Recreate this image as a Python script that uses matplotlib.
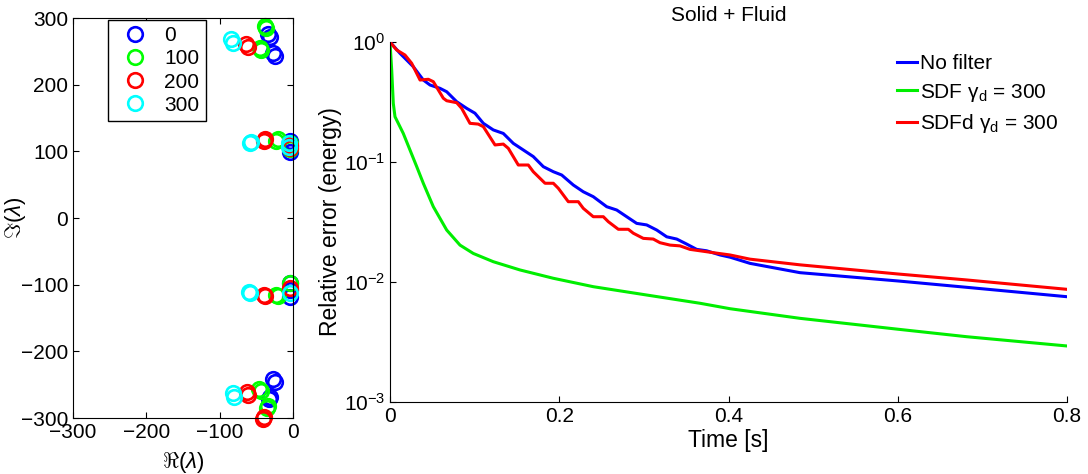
import matplotlib
matplotlib.use('Agg')
import matplotlib.pyplot as plt

plt.rcParams['font.family'] = ['Liberation Sans', 'DejaVu Sans']
plt.rcParams['mathtext.fontset'] = 'custom'
plt.rcParams['mathtext.rm'] = 'Liberation Sans'
plt.rcParams['mathtext.it'] = 'Liberation Sans:italic'
plt.rcParams['xtick.direction'] = 'in'
plt.rcParams['ytick.direction'] = 'in'

# ---- eigenvalues (left panel) ----
eig_labels = ['0', '100', '200', '300']
eig_colors = ['#0000ff', '#00ff00', '#ff0000', '#00ffff']
eig_re = [
    [-34, -32, -27, -25, -4, -4, -4, -4, -4, -4, -27, -25, -33, -31],
    [-38, -37, -45, -44, -21, -23, -4, -4, -21, -23, -4, -46, -44, -35, -34],
    [-64, -62, -38, -40, -4, -4, -38, -40, -4, -63, -61, -41, -40],
    [-84, -82, -57, -59, -5, -5, -58, -60, -4, -82, -80],
]
eig_im = [
    [276, 272, 248, 243, 116, 108, 99, -97, -108, -118, -241, -246, -272, -268],
    [288, 285, 255, 252, 118, 116, 112, 104, -117, -115, -98, -256, -259, -285, -282],
    [261, 256, 118, 116, 110, 105, -117, -115, -105, -261, -265, -302, -299],
    [268, 263, 114, 112, 112, 107, -113, -111, -112, -263, -268],
]

# ---- relative error curves (right panel) ----
t_nofilt = [0, 0.0118, 0.0275, 0.0394, 0.0473, 0.0591, 0.0670, 0.0788, 0.0906,
            0.1004, 0.1103, 0.1221, 0.1339, 0.1457, 0.1575, 0.1693, 0.1812,
            0.1930, 0.2029, 0.2166, 0.2284, 0.2402, 0.2561, 0.2679, 0.2797,
            0.2915, 0.3033, 0.3152, 0.3270, 0.3388, 0.3506, 0.3624, 0.3742,
            0.3900, 0.4018, 0.4254, 0.4845, 0.6003, 0.6815, 0.8]
e_nofilt = [1.0, 0.805, 0.623, 0.482, 0.438, 0.411, 0.385, 0.318, 0.280,
            0.255, 0.210, 0.185, 0.173, 0.143, 0.126, 0.111, 0.0914,
            0.0830, 0.0779, 0.0643, 0.0565, 0.0514, 0.0424, 0.0398, 0.0350,
            0.0308, 0.0299, 0.0271, 0.0238, 0.0228, 0.0207, 0.0187, 0.0182,
            0.0168, 0.0161, 0.0143, 0.01196, 0.0102, 0.00903, 0.00754]

t_sdf = [0, 0.0020, 0.0039, 0.0059, 0.0098, 0.0157, 0.0236, 0.0316, 0.0394,
         0.0512, 0.0670, 0.0827, 0.0984, 0.1221, 0.1536, 0.1930, 0.2402,
         0.3033, 0.3663, 0.4018, 0.4845, 0.6003, 0.6815, 0.8]
e_sdf = [1.0, 0.585, 0.308, 0.2385, 0.210, 0.173, 0.126, 0.0914, 0.0664,
         0.0424, 0.0271, 0.0203, 0.0173, 0.01476, 0.0126, 0.01074, 0.00914,
         0.00779, 0.00665, 0.00599, 0.00498, 0.00404, 0.00350, 0.00293]

t_sdfd = [0, 0.0079, 0.0177, 0.0256, 0.0355, 0.0453, 0.0512, 0.0630, 0.0670,
          0.0788, 0.0847, 0.0945, 0.1043, 0.1103, 0.1241, 0.1339, 0.1398,
          0.1516, 0.1634, 0.1693, 0.1832, 0.1930, 0.1989, 0.2107, 0.2225,
          0.2284, 0.2402, 0.2521, 0.2580, 0.2698, 0.2816, 0.2875, 0.2993,
          0.3111, 0.3190, 0.3309, 0.3427, 0.3545, 0.3663, 0.3820, 0.4018,
          0.4254, 0.4845, 0.6003, 0.6815, 0.8]
e_sdfd = [1.0, 0.858, 0.779, 0.665, 0.482, 0.489, 0.467, 0.340, 0.324,
          0.312, 0.280, 0.210, 0.207, 0.197, 0.1387, 0.141, 0.130,
          0.0944, 0.0944, 0.0830, 0.0665, 0.0665, 0.0604, 0.0467, 0.0467,
          0.0411, 0.0350, 0.0350, 0.0318, 0.0275, 0.0275, 0.0255, 0.0231,
          0.0228, 0.02126, 0.0203, 0.0200, 0.0187, 0.0182, 0.01755, 0.0168,
          0.0155, 0.0139, 0.01166, 0.0104, 0.00869]

fig = plt.figure(figsize=(10.88, 4.74), dpi=100)

# left panel
ax1 = fig.add_axes([73 / 1088, 1 - 418 / 474, 220 / 1088, 400 / 474])
for re, im, c, lab in zip(eig_re, eig_im, eig_colors, eig_labels):
    ax1.plot(re, im, 'o', mfc='none', mec=c, mew=1.9, ms=10.5,
             label=lab, clip_on=False)
ax1.set_xlim(-300, 0)
ax1.set_ylim(-300, 300)
ax1.set_xticks([-300, -200, -100, 0])
ax1.set_yticks([-300, -200, -100, 0, 100, 200, 300])
ax1.tick_params(labelsize=15, length=4, top=True, right=True)
ax1.set_xlabel(r'$\Re(\lambda)$', fontsize=16)
ax1.set_ylabel(r'$\Im(\lambda)$', fontsize=16)
ax1.xaxis.set_label_coords(0.5, -0.08)
ax1.yaxis.set_label_coords(-0.205, 0.5)
ax1.legend(loc='upper left', bbox_to_anchor=(0.16, 0.995), borderaxespad=0,
           fontsize=15, fancybox=False, edgecolor='black', framealpha=1,
           handletextpad=0.4, labelspacing=0.2, borderpad=0.3)

# right panel
ax2 = fig.add_axes([390 / 1088, 1 - 402 / 474, 677 / 1088, 360 / 474])
ax2.semilogy(t_nofilt, e_nofilt, color='#0000ff', lw=2.2, label='No filter')
ax2.semilogy(t_sdf, e_sdf, color='#00ee00', lw=2.2, label=r'SDF $\mathrm{\gamma}_\mathrm{d}$ = 300')
ax2.semilogy(t_sdfd, e_sdfd, color='#ff0000', lw=2.2, label=r'SDFd $\mathrm{\gamma}_\mathrm{d}$ = 300')
ax2.set_xlim(0, 0.8)
ax2.set_ylim(1e-3, 1)
ax2.set_xticks([0, 0.2, 0.4, 0.6, 0.8])
ax2.set_xticklabels(['0', '0.2', '0.4', '0.6', '0.8'])
ax2.minorticks_off()
ax2.spines['top'].set_visible(False)
ax2.spines['right'].set_visible(False)
ax2.tick_params(labelsize=15, length=4)
ax2.set_xlabel('Time [s]', fontsize=16.5)
ax2.set_ylabel('Relative error (energy)', fontsize=16.5)
ax2.xaxis.set_label_coords(0.5, -0.075)
ax2.yaxis.set_label_coords(-0.071, 0.5)
ax2.set_title('Solid + Fluid', fontsize=15, pad=15)
ax2.legend(loc='upper left', bbox_to_anchor=(887 / 1088, 1 - 44 / 474),
           bbox_transform=fig.transFigure, frameon=False, borderpad=0,
           fontsize=15, handlelength=0.95, handletextpad=0.15,
           labelspacing=0.4)

fig.savefig('out.png', dpi=100)
